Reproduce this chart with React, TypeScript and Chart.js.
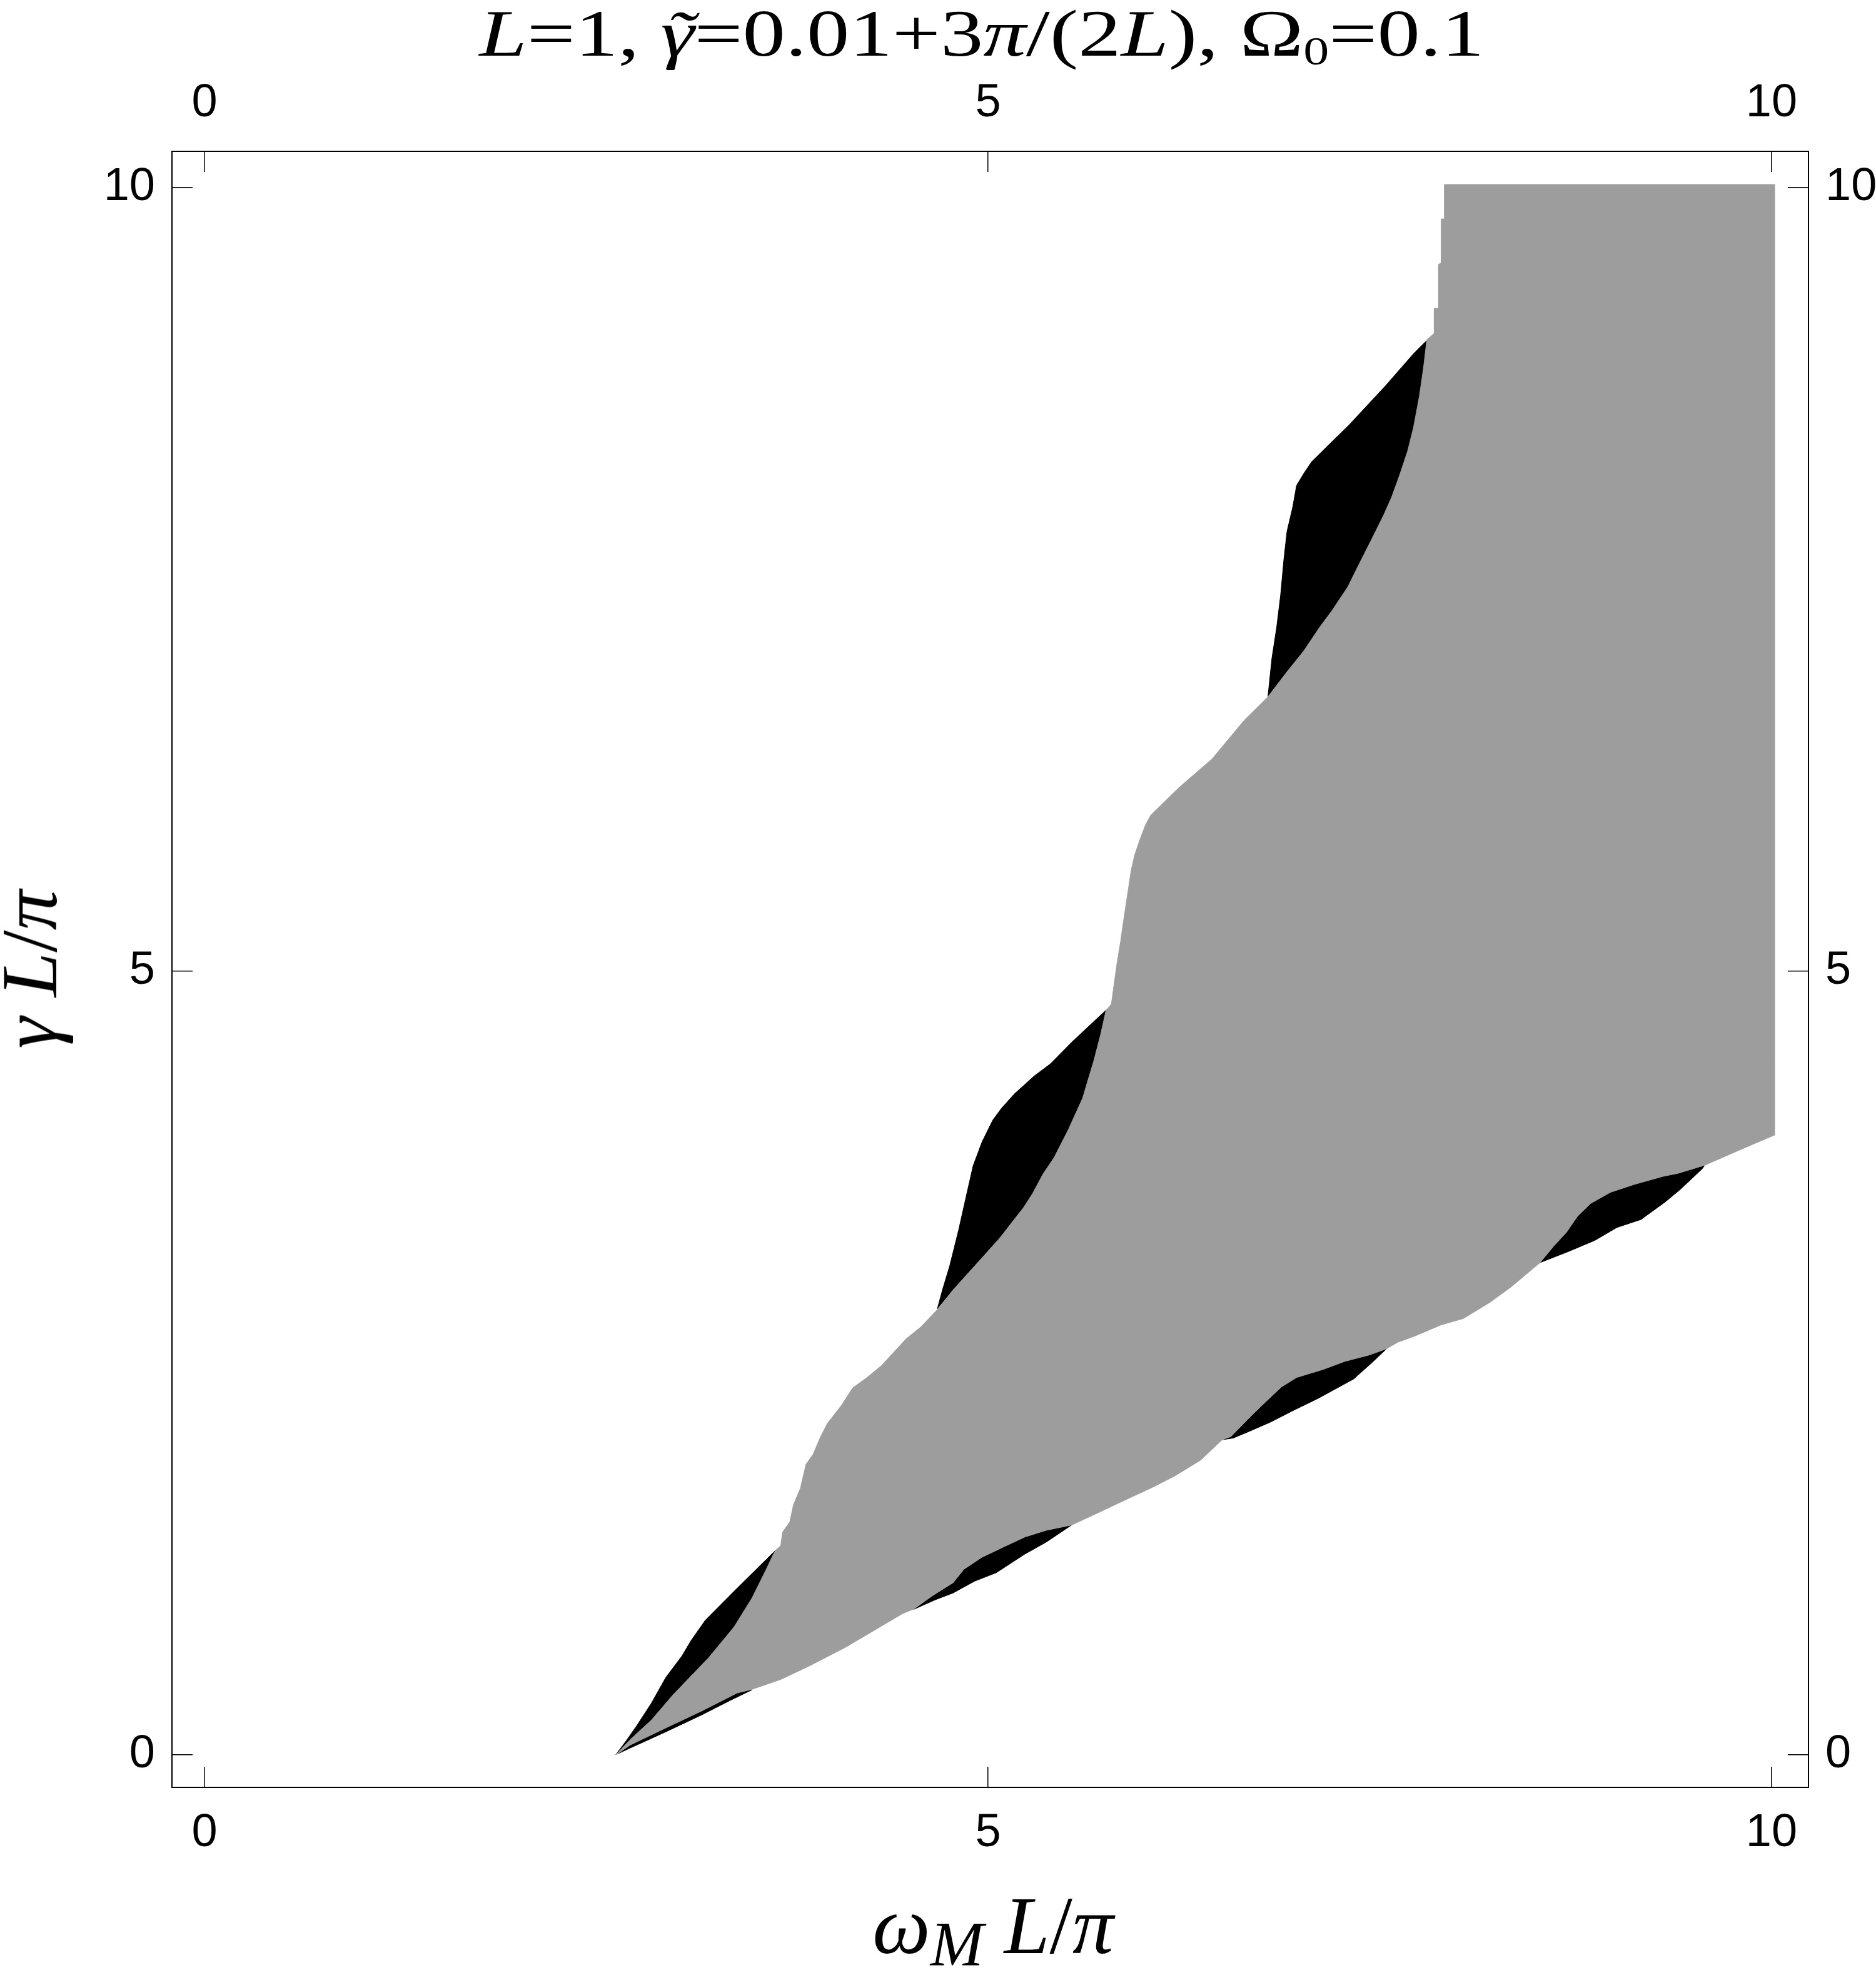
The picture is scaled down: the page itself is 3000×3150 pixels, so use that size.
import React, { useEffect, useRef } from "react";
import { Chart, registerables } from "chart.js";

Chart.register(...registerables);

// ---- axis ranges and ticks ----
const xTicks = [0, 5, 10];
const yTicks = [0, 5, 10];
const xRange = [-0.2075, 10.2354];
const yRange = [-0.2075, 10.2314];

// ---- regions (omega_M L/pi, gamma L/pi) ----
const grayRegion: [number, number][] = [
  [2.624, 0.0], [2.715, 0.062], [2.944, 0.172], [3.173, 0.28], [3.4, 0.395], [3.494, 0.418],
  [3.677, 0.481], [3.861, 0.568], [4.09, 0.686], [4.273, 0.794], [4.456, 0.902], [4.525, 0.93],
  [4.64, 1.012], [4.777, 1.098], [4.846, 1.184], [4.96, 1.26], [5.098, 1.326], [5.235, 1.39],
  [5.372, 1.433], [5.533, 1.466], [5.693, 1.54], [5.83, 1.605], [6.047, 1.706], [6.187, 1.777],
  [6.271, 1.828], [6.355, 1.879], [6.495, 2.011], [6.55, 2.031], [6.69, 2.174], [6.774, 2.255],
  [6.872, 2.347], [6.97, 2.408], [7.138, 2.459], [7.278, 2.511], [7.432, 2.551], [7.543, 2.591],
  [7.613, 2.632], [7.725, 2.673], [7.893, 2.744], [8.033, 2.784], [8.201, 2.886], [8.341, 2.988],
  [8.523, 3.141], [8.607, 3.243], [8.691, 3.334], [8.761, 3.436], [8.845, 3.518], [8.971, 3.589],
  [9.125, 3.64], [9.307, 3.691], [9.405, 3.711], [9.573, 3.762], [9.713, 3.823], [9.853, 3.884],
  [10.02, 3.955], [10.02, 10.02], [7.913, 10.02], [7.913, 9.8], [7.893, 9.8], [7.893, 9.52],
  [7.875, 9.51], [7.875, 9.23], [7.847, 9.23], [7.847, 9.07], [7.8, 9.03], [7.779, 8.851],
  [7.753, 8.672], [7.715, 8.469], [7.677, 8.317], [7.626, 8.164], [7.575, 8.024], [7.524, 7.909],
  [7.448, 7.756], [7.371, 7.604], [7.295, 7.451], [7.193, 7.298], [7.117, 7.196], [7.015, 7.044],
  [6.913, 6.917], [6.786, 6.751], [6.633, 6.599], [6.429, 6.354], [6.222, 6.175], [6.039, 5.997],
  [6.005, 5.934], [5.971, 5.845], [5.936, 5.743], [5.913, 5.642], [5.89, 5.489], [5.867, 5.336],
  [5.845, 5.184], [5.822, 5.044], [5.799, 4.878], [5.787, 4.789], [5.753, 4.752], [5.719, 4.598],
  [5.673, 4.421], [5.638, 4.306], [5.604, 4.191], [5.512, 3.988], [5.421, 3.81], [5.352, 3.708],
  [5.284, 3.581], [5.226, 3.491], [5.146, 3.389], [5.077, 3.3], [4.974, 3.185], [4.779, 2.969],
  [4.685, 2.85], [4.571, 2.73], [4.479, 2.656], [4.319, 2.483], [4.227, 2.407], [4.136, 2.341],
  [4.067, 2.233], [3.975, 2.115], [3.93, 2.027], [3.884, 1.918], [3.838, 1.853], [3.803, 1.702],
  [3.758, 1.594], [3.735, 1.486], [3.689, 1.421], [3.677, 1.335], [3.643, 1.304], [3.631, 1.282],
  [3.585, 1.184], [3.494, 1.001], [3.38, 0.817], [3.219, 0.622], [2.99, 0.383], [2.852, 0.222],
  [2.715, 0.096],
];

const blackA: [number, number][] = [
  [2.624, 0.0], [2.692, 0.091], [2.761, 0.19], [2.852, 0.33], [2.944, 0.494], [3.047, 0.631],
  [3.105, 0.729], [3.196, 0.859], [3.402, 1.066], [3.643, 1.304], [3.631, 1.282], [3.585, 1.184],
  [3.494, 1.001], [3.38, 0.817], [3.219, 0.622], [2.99, 0.383], [2.852, 0.222], [2.715, 0.096],
];

const blackB: [number, number][] = [
  [4.676, 2.844], [4.71, 2.969], [4.756, 3.122], [4.813, 3.351], [4.859, 3.556], [4.905, 3.759],
  [4.962, 3.911], [5.031, 4.051], [5.088, 4.128], [5.168, 4.217], [5.294, 4.331], [5.397, 4.408],
  [5.535, 4.548], [5.753, 4.752], [5.719, 4.598], [5.673, 4.421], [5.638, 4.306], [5.604, 4.191],
  [5.512, 3.988], [5.421, 3.81], [5.352, 3.708], [5.284, 3.581], [5.226, 3.491], [5.146, 3.389],
  [5.077, 3.3], [4.974, 3.185], [4.779, 2.969],
];

const blackC: [number, number][] = [
  [6.786, 6.751], [6.811, 6.993], [6.842, 7.196], [6.867, 7.4], [6.888, 7.629], [6.908, 7.807],
  [6.944, 7.96], [6.969, 8.1], [7.015, 8.176], [7.066, 8.252], [7.308, 8.49], [7.537, 8.736],
  [7.715, 8.94], [7.804, 9.029], [7.779, 8.851], [7.753, 8.672], [7.715, 8.469], [7.677, 8.317],
  [7.626, 8.164], [7.575, 8.024], [7.524, 7.909], [7.448, 7.756], [7.371, 7.604], [7.295, 7.451],
  [7.193, 7.298], [7.117, 7.196], [7.015, 7.044], [6.913, 6.917],
];

const blackD: [number, number][] = [
  [2.64, 0.008], [2.715, 0.043], [2.944, 0.147], [3.173, 0.255], [3.35, 0.345], [3.494, 0.415],
  [3.4, 0.395], [3.173, 0.28], [2.944, 0.172], [2.715, 0.062],
];

const blackE: [number, number][] = [
  [4.525, 0.928], [4.662, 0.989], [4.777, 1.033], [4.914, 1.108], [5.052, 1.162], [5.235, 1.281],
  [5.372, 1.358], [5.533, 1.466], [5.372, 1.433], [5.235, 1.39], [5.098, 1.326], [4.96, 1.26],
  [4.846, 1.184], [4.777, 1.098], [4.64, 1.012],
];

const blackF: [number, number][] = [
  [6.495, 2.011], [6.564, 2.021], [6.662, 2.062], [6.802, 2.123], [6.941, 2.194], [7.109, 2.276],
  [7.221, 2.337], [7.333, 2.398], [7.459, 2.511], [7.543, 2.591], [7.432, 2.551], [7.278, 2.511],
  [7.138, 2.459], [6.97, 2.408], [6.872, 2.347], [6.774, 2.255], [6.69, 2.174], [6.55, 2.031],
];

const blackG: [number, number][] = [
  [8.523, 3.141], [8.705, 3.212], [8.873, 3.283], [9.013, 3.365], [9.167, 3.416], [9.321, 3.528],
  [9.419, 3.609], [9.559, 3.741], [9.573, 3.762], [9.405, 3.711], [9.307, 3.691], [9.125, 3.64],
  [8.971, 3.589], [8.845, 3.518], [8.761, 3.436], [8.691, 3.334], [8.607, 3.243],
];

const GRAY = "#9d9d9d";
const BLACK = "#000000";

const toPoints = (pts: [number, number][]) => pts.map(([x, y]) => ({ x, y }));

const region = (label: string, pts: [number, number][], color: string, order: number) => ({
  label,
  data: toPoints(pts),
  backgroundColor: color,
  borderColor: color,
  borderWidth: 1,
  pointRadius: 0,
  pointHoverRadius: 0,
  fill: "shape",
  tension: 0,
  order,
});

const tickFont = { family: "'Liberation Sans', Arial, sans-serif", size: 74 };

function axis(position: string, range: number[], ticks: number[], size: number, pad: number, horizontal: boolean) {
  return {
    type: "linear",
    position,
    min: range[0],
    max: range[1],
    afterBuildTicks: (s: any) => {
      s.ticks = ticks.map((v) => ({ value: v }));
    },
    afterFit: (s: any) => {
      if (horizontal) s.height = size;
      else s.width = size;
    },
    ticks: {
      font: tickFont,
      color: "#000",
      padding: pad,
      maxRotation: 0,
      minRotation: 0,
      autoSkip: false,
      callback: (v: number) => String(v),
    },
    grid: {
      drawOnChartArea: false,
      drawTicks: true,
      tickLength: -33,
      lineWidth: 1.5,
      color: "#000",
    },
    border: { display: true, color: "#000", width: 2 },
  };
}

export default function App() {
  const ref = useRef<HTMLCanvasElement | null>(null);

  useEffect(() => {
    if (!ref.current) return;
    const chart = new Chart(ref.current, {
      type: "line",
      data: {
        datasets: [
          region("gray", grayRegion, GRAY, 0),
          region("A", blackA, BLACK, 1),
          region("B", blackB, BLACK, 1),
          region("C", blackC, BLACK, 1),
          region("D", blackD, BLACK, 1),
          region("E", blackE, BLACK, 1),
          region("F", blackF, BLACK, 1),
          region("G", blackG, BLACK, 1),
        ] as any,
      },
      options: {
        animation: false,
        responsive: false,
        devicePixelRatio: 1,
        events: [],
        layout: { padding: 0 },
        plugins: {
          legend: { display: false },
          title: { display: false },
          tooltip: { enabled: false },
        },
        scales: {
          x: axis("bottom", xRange, xTicks, 292, 62, true),
          x2: axis("top", xRange, xTicks, 242, 65, true),
          y: axis("left", yRange, yTicks, 275, 60, false),
          y2: axis("right", yRange, yTicks, 108, 60, false),
        } as any,
      },
    });
    return () => chart.destroy();
  }, []);

  const serif = "'Liberation Serif', 'Times New Roman', Times, serif";

  return (
    <div style={{ position: "absolute", left: 0, top: 0, width: 3000, height: 3150, background: "#fff", overflow: "hidden" }}>
      <canvas ref={ref} width={3000} height={3150} style={{ position: "absolute", left: 0, top: 0, width: 3000, height: 3150, display: "block" }} />
      <div
        style={{
          position: "absolute",
          left: 1570,
          top: 1,
          fontFamily: serif,
          fontSize: 106,
          lineHeight: "106px",
          whiteSpace: "nowrap",
          color: "#000",
          transform: "translateX(-50%) scaleX(1.29)",
        }}
      >
        <i>L</i>=1,{" "}
        <span style={{ position: "relative", display: "inline-block" }}>
          <i>γ</i>
          <i style={{ position: "absolute", left: "0.06em", top: "0.02em" }}>˜</i>
        </span>
        =0.01+3<i>π</i>/(2<i>L</i>), Ω
        <span style={{ fontSize: "0.6em", position: "relative", top: "0.22em" }}>0</span>=0.1
      </div>
      <div
        style={{
          position: "absolute",
          left: 1588,
          top: 3013,
          fontFamily: serif,
          fontSize: 131,
          lineHeight: "131px",
          whiteSpace: "nowrap",
          color: "#000",
          transform: "translateX(-50%)",
        }}
      >
        <i>ω</i>
        <span style={{ fontSize: "0.78em", position: "relative", top: "0.2em" }}>
          <i>M</i>
        </span>{" "}
        <i>L</i>/<i>π</i>
      </div>
      <div
        style={{
          position: "absolute",
          left: 47,
          top: 1550,
          fontFamily: serif,
          fontSize: 128,
          lineHeight: "128px",
          whiteSpace: "nowrap",
          color: "#000",
          transform: "translate(-50%, -50%) rotate(-90deg)",
        }}
      >
        <i>γ</i> <i>L</i>/<i>π</i>
      </div>
    </div>
  );
}
